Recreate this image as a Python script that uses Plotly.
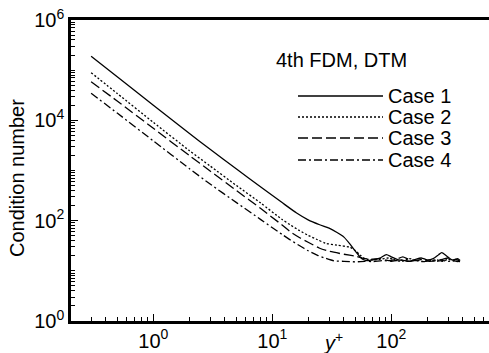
import plotly.graph_objects as go

# ---- data ----
case1_x = [0.3, 0.5, 1, 2, 3, 5, 8, 12, 16, 20, 25, 30, 35, 40, 45, 50, 55, 58,
           62, 70, 80, 91, 100, 115, 130, 144, 160, 180, 200, 225, 250, 265, 290, 323, 350, 378]
case1_y = [190000, 73000, 20000, 5500, 2650, 1070, 470, 232, 142, 104, 83, 71, 58, 47, 34, 24.5, 18.6, 16.8,
           16, 16.5, 18, 21, 19, 16.5, 16, 15.5, 17, 18, 16.5, 17.5, 21, 23, 20, 16.6, 17, 15.5]

case2_x = [0.3, 0.5, 1, 2, 3, 5, 8, 12, 14.2, 17, 20, 24, 28, 35, 45, 50, 55,
           60, 70, 80, 95, 110, 125, 140, 160, 185, 210, 240, 270, 300, 330, 378]
case2_y = [89000, 33900, 9120, 2510, 1230, 501, 224, 107, 82, 63, 51, 41.7, 35.5, 32.4, 29.5, 25.1, 20.4,
           17.5, 16.5, 17, 18, 16, 15.5, 17.5, 16.5, 15.5, 16, 16.5, 15.5, 17, 16, 15]

case3_x = [0.3, 0.5, 1, 2, 3, 5, 8, 12, 14.2, 17, 20, 25, 30, 40, 50, 58,
           68, 80, 95, 110, 125, 140, 160, 185, 210, 240, 270, 300, 330, 360, 378]
case3_y = [58900, 24000, 6920, 2000, 977, 398, 174, 83, 60, 45.7, 37.2, 28.2, 24.5, 21.4, 19.5, 17.8,
           17, 17.5, 16, 17, 19, 17, 16, 17, 15.5, 16, 17, 18, 16, 17.5, 16]

case4_x = [0.3, 0.5, 1, 2, 3, 5, 8, 12, 14.2, 17, 20, 24, 28, 33, 40, 50,
           60, 70, 85, 100, 120, 140, 160, 185, 210, 240, 270, 300, 330, 378]
case4_y = [34700, 13800, 3890, 1100, 537, 229, 105, 53.7, 41.1, 31.6, 25.1, 20.4, 17.8, 15.8, 15.5, 15.1,
           15.5, 15.3, 16, 15.5, 16.5, 15.5, 16, 15.2, 16, 15.5, 16, 15.4, 15.8, 15.2]

series_names = ["Case 1", "Case 2", "Case 3", "Case 4"]
x_tickvals = [1, 10, 100]
x_ticktext = ["10<sup>0</sup>", "10<sup>1</sup>", "10<sup>2</sup>"]
y_tickvals = [1, 100, 1e4, 1e6]
y_ticktext = ["10<sup>0</sup>", "10<sup>2</sup>", "10<sup>4</sup>", "10<sup>6</sup>"]
legend_title = "4th FDM, DTM"
y_title = "Condition number"
x_title = "<i>y</i><sup>+</sup>"

# ---- styling ----
FONT = "Liberation Sans, Arial, sans-serif"
FS = 20
dashes = ["solid", "2px,2px", "10px,4px", "8px,3px,2px,3px"]
LW = 1.3

W, H = 489, 353
L, R, T, B = 71, 0, 20, 32
pw, ph = W - L - R, H - T - B


def px(xp):
    return (xp - L) / pw


def py(yp):
    return (H - B - yp) / ph


fig = go.Figure()
for xs, ys, name, d in zip([case1_x, case2_x, case3_x, case4_x],
                           [case1_y, case2_y, case3_y, case4_y],
                           series_names, dashes):
    fig.add_trace(go.Scatter(x=xs, y=ys, mode="lines", name=name,
                             line=dict(color="black", width=LW, dash=d,
                                       shape="spline", smoothing=0.6),
                             showlegend=False))

minor_x = [k * 10 ** n for n in range(-1, 3) for k in range(1, 10)]
minor_y = [k * 10 ** n for n in range(0, 6) for k in range(1, 10)]

fig.update_xaxes(type="log", range=[-0.692, 2.821],
                 tickmode="array", tickvals=x_tickvals, ticktext=x_ticktext,
                 ticks="inside", ticklen=7, tickwidth=1.3, tickcolor="black",
                 minor=dict(tickmode="array", tickvals=minor_x, ticks="inside",
                            ticklen=4, tickwidth=1, tickcolor="black", showgrid=False),
                 showline=True, linecolor="black", linewidth=2.5, mirror=True,
                 showgrid=False, zeroline=False,
                 tickfont=dict(family=FONT, size=FS, color="black"))
fig.update_yaxes(type="log", range=[0, 6],
                 tickmode="array", tickvals=y_tickvals, ticktext=y_ticktext,
                 ticks="inside", ticklen=7, tickwidth=1.3, tickcolor="black",
                 minor=dict(tickmode="array", tickvals=minor_y, ticks="inside",
                            ticklen=4, tickwidth=1, tickcolor="black", showgrid=False),
                 showline=True, linecolor="black", linewidth=2.5, mirror=False,
                 showgrid=False, zeroline=False,
                 tickfont=dict(family=FONT, size=FS, color="black"))

# legend drawn by hand (title + samples + labels)
anns = [
    dict(text=legend_title, x=px(274), y=py(60), xanchor="left", yanchor="middle",
         font=dict(family=FONT, size=FS, color="black")),
    dict(text=y_title, x=px(17), y=py(178), textangle=-90, xanchor="center", yanchor="middle",
         font=dict(family=FONT, size=FS, color="black")),
    dict(text=x_title, x=px(333), y=py(342), xanchor="center", yanchor="middle",
         font=dict(family=FONT, size=FS, color="black")),
]
shapes = []
rows = [96, 117, 138, 160]
for name, d, r in zip(series_names, dashes, rows):
    shapes.append(dict(type="line", xref="paper", yref="paper",
                       x0=px(298), x1=px(383), y0=py(r), y1=py(r),
                       line=dict(color="black", width=LW, dash=d)))
    anns.append(dict(text=name, x=px(386), y=py(r), xanchor="left", yanchor="middle",
                     font=dict(family=FONT, size=FS, color="black")))
for a in anns:
    a.update(xref="paper", yref="paper", showarrow=False)

fig.update_layout(width=W, height=H, margin=dict(l=L, r=R, t=T, b=B),
                  paper_bgcolor="white", plot_bgcolor="white",
                  annotations=anns, shapes=shapes, showlegend=False,
                  font=dict(family=FONT, size=FS, color="black"))

fig.write_html("out.html")
